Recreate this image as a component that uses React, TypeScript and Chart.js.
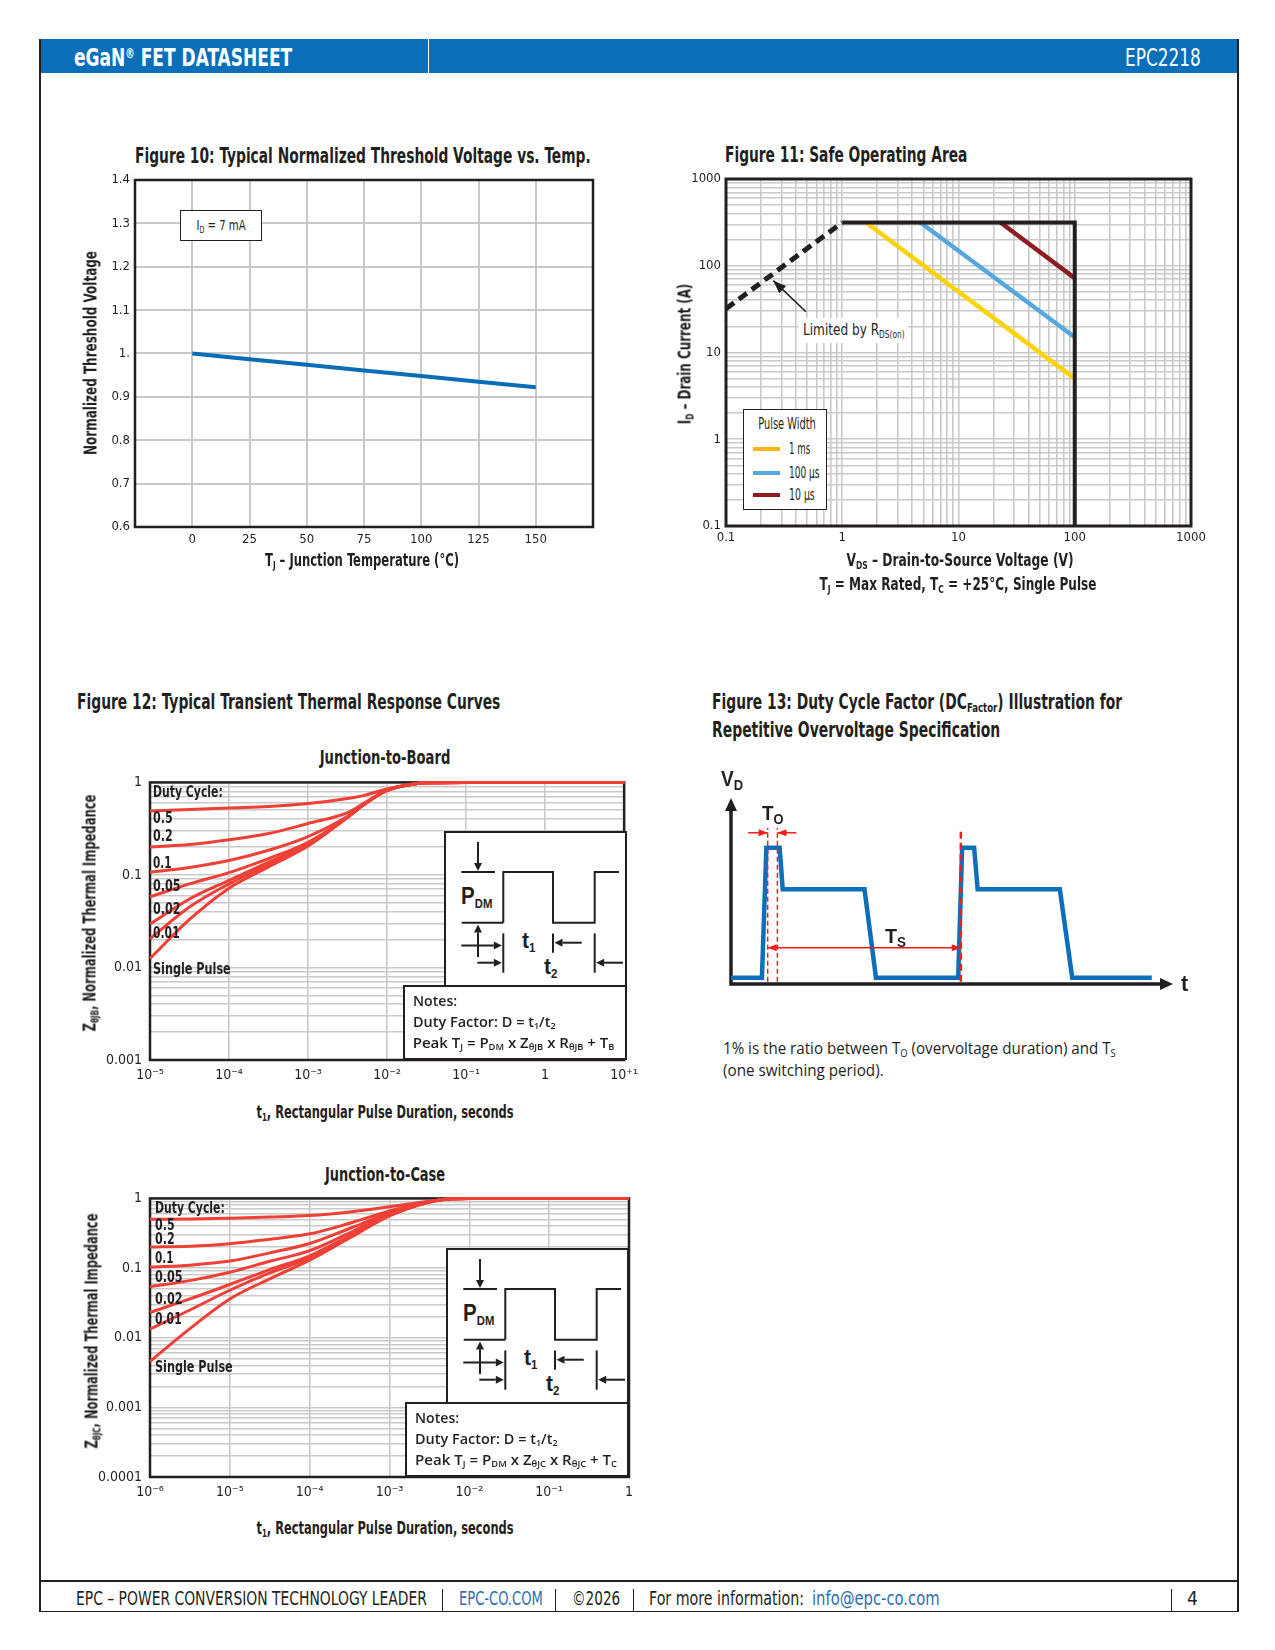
import React, { useEffect, useLayoutEffect, useRef } from 'react';
import { Chart, registerables } from 'chart.js';
Chart.register(...registerables);

const FONT_C = "'Liberation Sans Narrow','Arial Narrow','DejaVu Sans Condensed',sans-serif";
const FONT_S = "'Liberation Sans',Arial,'DejaVu Sans',sans-serif";
const FONT_H = "'Open Sans','Noto Sans','Liberation Sans',sans-serif";
const INK = '#231f20';
const BLUE = '#0a6fb8';
const LINK = '#2e6db4';
const GRID = '#c9c9c9';
const RED = '#ee4036';

// ---------- Figure 10 data ----------
const tempC = [0, 25, 50, 75, 100, 125, 150];
const vthNorm = [1.0, 0.987, 0.974, 0.961, 0.948, 0.935, 0.922];
const fig10XGrid = [-25, 0, 25, 50, 75, 100, 125, 150, 175];
const fig10XTicks = ['0', '25', '50', '75', '100', '125', '150'];
const fig10YGrid = [0.6, 0.7, 0.8, 0.9, 1.0, 1.1, 1.2, 1.3, 1.4];
const fig10YTicks = ['0.6', '0.7', '0.8', '0.9', '1.', '1.1', '1.2', '1.3', '1.4'];

// ---------- Figure 11 data ----------
const LOG_MULT = [1, 2, 3, 4, 5, 6, 7, 8, 9];
const soaDecades = [0.1, 1, 10, 100, 1000];
const soaDecadeLabels = ['0.1', '1', '10', '100', '1000'];
const rdsLimitV = [0.1, 1];
const rdsLimitI = [32, 315];
const boundaryV = [1, 100, 100];
const boundaryI = [315, 315, 0.1];
const pulse1msV = [1.6, 100];
const pulse1msI = [315, 5];
const pulse100usV = [4.7, 100];
const pulse100usI = [315, 15];
const pulse10usV = [23, 100];
const pulse10usI = [315, 72];
const rdsArrowV = [0.487, 0.255];
const rdsArrowI = [29.5, 67.3];
const pulseLegend = ['1 ms', '100 µs', '10 µs'];
const pulseColors = ['#fdd20a', '#55a7de', '#8c1d22'];
const pulseSwatch = ['#fbb817', '#55a7de', '#8c1d22'];

// ---------- Figure 12 data ----------
const dutyLabels = ['0.5', '0.2', '0.1', '0.05', '0.02', '0.01', 'Single Pulse'];
const jbTime = [1e-5, 3.16e-5, 1e-4, 3.16e-4, 1e-3, 3.16e-3, 5e-3, 1e-2, 2e-2, 3.16e-2, 0.1, 1, 10];
const jbD05 = [0.49, 0.51, 0.53, 0.55, 0.59, 0.67, 0.72, 0.85, 0.95, 0.99, 1, 1, 1];
const jbD02 = [0.2, 0.213, 0.24, 0.28, 0.36, 0.47, 0.59, 0.825, 0.95, 0.99, 1, 1, 1];
const jbD01 = [0.107, 0.12, 0.143, 0.185, 0.26, 0.43, 0.575, 0.82, 0.95, 0.99, 1, 1, 1];
const jbD005 = [0.058, 0.08, 0.106, 0.15, 0.225, 0.42, 0.57, 0.82, 0.95, 0.99, 1, 1, 1];
const jbD002 = [0.0295, 0.055, 0.0875, 0.138, 0.215, 0.42, 0.57, 0.82, 0.95, 0.99, 1, 1, 1];
const jbD001 = [0.0204, 0.045, 0.08, 0.13, 0.21, 0.42, 0.57, 0.82, 0.95, 0.99, 1, 1, 1];
const jbSingle = [0.0125, 0.033, 0.072, 0.122, 0.205, 0.42, 0.57, 0.82, 0.95, 0.99, 1, 1, 1];
const jbXDecades = [1e-5, 1e-4, 1e-3, 1e-2, 1e-1, 1, 10];
const jbXLabels = ['10⁻⁵', '10⁻⁴', '10⁻³', '10⁻²', '10⁻¹', '1', '10⁺¹'];
const jbYDecades = [0.001, 0.01, 0.1, 1];
const jbYLabels = ['0.001', '0.01', '0.1', '1'];

const jcTime = [1e-6, 3.16e-6, 1e-5, 3.16e-5, 1e-4, 3.16e-4, 1e-3, 3.16e-3, 6e-3, 1e-2, 0.1, 1];
const jcD05 = [0.5, 0.505, 0.52, 0.54, 0.567, 0.64, 0.76, 0.91, 0.985, 1, 1, 1];
const jcD02 = [0.2, 0.206, 0.224, 0.26, 0.31, 0.44, 0.66, 0.9, 0.985, 1, 1, 1];
const jcD01 = [0.103, 0.11, 0.126, 0.165, 0.225, 0.37, 0.62, 0.89, 0.985, 1, 1, 1];
const jcD005 = [0.054, 0.066, 0.087, 0.125, 0.178, 0.32, 0.6, 0.89, 0.985, 1, 1, 1];
const jcD002 = [0.023, 0.036, 0.058, 0.095, 0.15, 0.29, 0.58, 0.89, 0.985, 1, 1, 1];
const jcD001 = [0.0133, 0.025, 0.048, 0.085, 0.14, 0.28, 0.57, 0.89, 0.985, 1, 1, 1];
const jcSingle = [0.00455, 0.0135, 0.036, 0.07, 0.13, 0.27, 0.56, 0.89, 0.985, 1, 1, 1];
const jcXDecades = [1e-6, 1e-5, 1e-4, 1e-3, 1e-2, 1e-1, 1];
const jcXLabels = ['10⁻⁶', '10⁻⁵', '10⁻⁴', '10⁻³', '10⁻²', '10⁻¹', '1'];
const jcYDecades = [0.0001, 0.001, 0.01, 0.1, 1];
const jcYLabels = ['0.0001', '0.001', '0.01', '0.1', '1'];

// ---------- Figure 13 data ----------
const waveT = [0, 7, 8, 11, 11.7, 30.2, 32.8, 51.4, 52.3, 55, 55.8, 74.4, 77.2, 95.2];
const waveV = [0.34, 0.34, 7.33, 7.33, 5.09, 5.09, 0.34, 0.34, 7.33, 7.33, 5.09, 5.09, 0.34, 0.34];
const markerT = [8.3, 10.5, 52.0];
const markerV = [0.12, 8.39];
const toLeftArrowT = [3.9, 8.3];
const toRightArrowT = [14.8, 10.5];
const toArrowV = [8.13, 8.13];
const tsArrowT = [8.3, 52.0];
const tsArrowV = [1.95, 1.95];

// ---------- layout helpers (positions only) ----------
const LABEL_W = [20, 20, 19, 28, 28, 27, 78];
const JB_LABEL_Y = [817.7, 835.7, 863.3, 886, 909.3, 933.3, 969.3];
const JC_LABEL_Y = [1225, 1239, 1257.7, 1276.7, 1299, 1319, 1366.7];
const LEGEND_Y = [449.3, 472.7, 495];
const LEGEND_W = [21.3, 30.7, 25.7];

function minorTicks(decades: number[]) {
  const out: number[] = [];
  decades.forEach((d, i) => {
    if (i === decades.length - 1) { out.push(d); return; }
    LOG_MULT.forEach((m) => out.push(d * m));
  });
  return out;
}
function decadeLabel(v: number, decs: number[], labels: string[]) {
  const i = decs.findIndex((d) => Math.abs(Math.log10(v / d)) < 1e-6);
  return i >= 0 ? labels[i] : '';
}
function pts(xs: number[], ys: number[]) {
  return xs.map((x, i) => ({ x, y: ys[i] }));
}

function head(ctx: any, fx: number, fy: number, tx: number, ty: number, len: number, hw: number, color: string) {
  const a = Math.atan2(ty - fy, tx - fx);
  ctx.save();
  ctx.fillStyle = color;
  ctx.beginPath();
  ctx.moveTo(tx, ty);
  ctx.lineTo(tx - len * Math.cos(a) + hw * Math.sin(a), ty - len * Math.sin(a) - hw * Math.cos(a));
  ctx.lineTo(tx - len * Math.cos(a) - hw * Math.sin(a), ty - len * Math.sin(a) + hw * Math.cos(a));
  ctx.closePath();
  ctx.fill();
  ctx.restore();
}

const framePlugin = {
  id: 'frame',
  beforeDatasetsDraw(chart: any, _a: any, opts: any) {
    if (!opts || !opts.width) return;
    const { left, top, width, height } = chart.chartArea;
    const ctx = chart.ctx;
    ctx.save();
    ctx.strokeStyle = opts.color || INK;
    ctx.lineWidth = opts.width;
    ctx.strokeRect(left, top, width, height);
    ctx.restore();
  },
};

const arrowPlugin = {
  id: 'arrowHeads',
  afterDatasetsDraw(chart: any) {
    const ctx = chart.ctx;
    chart.data.datasets.forEach((ds: any, i: number) => {
      if (!ds.arrowEnd && !ds.arrowStart) return;
      const p = chart.getDatasetMeta(i).data;
      if (p.length < 2) return;
      const len = ds.arrowLen || 9;
      const hw = ds.arrowHalf || 4;
      if (ds.arrowEnd) head(ctx, p[p.length - 2].x, p[p.length - 2].y, p[p.length - 1].x, p[p.length - 1].y, len, hw, ds.borderColor);
      if (ds.arrowStart) head(ctx, p[1].x, p[1].y, p[0].x, p[0].y, len, hw, ds.borderColor);
    });
  },
};

const axesArrowPlugin = {
  id: 'axesArrows',
  beforeDatasetsDraw(chart: any) {
    const { left, right, top, bottom } = chart.chartArea;
    const ctx = chart.ctx;
    ctx.save();
    ctx.strokeStyle = INK;
    ctx.lineWidth = 3.5;
    ctx.beginPath();
    ctx.moveTo(left, bottom + 1.75);
    ctx.lineTo(left, top + 10);
    ctx.moveTo(left - 1.75, bottom);
    ctx.lineTo(right - 10, bottom);
    ctx.stroke();
    ctx.restore();
    head(ctx, left, bottom, left, top, 13, 6, INK);
    head(ctx, left, bottom, right, bottom, 13, 6, INK);
  },
};

const baseOpts = {
  animation: false,
  responsive: false,
  maintainAspectRatio: false,
  devicePixelRatio: 1,
  events: [],
};

function tickFont(size: number) {
  return { family: FONT_C, size };
}

function fig10Config(): any {
  return {
    type: 'line',
    data: {
      datasets: [{ data: pts(tempC, vthNorm), borderColor: '#0a6db6', borderWidth: 4, pointRadius: 0, tension: 0, fill: false }],
    },
    options: {
      ...baseOpts,
      layout: { padding: { top: 15, right: 17, left: 0, bottom: 0 } },
      plugins: { legend: { display: false }, tooltip: { enabled: false }, frame: { color: INK, width: 2.5 } },
      scales: {
        x: {
          type: 'linear', min: -25, max: 175,
          afterBuildTicks: (s: any) => { s.ticks = fig10XGrid.map((v) => ({ value: v })); },
          ticks: { callback: (v: any) => (fig10XTicks.includes(String(v)) ? String(v) : ''), autoSkip: false, maxRotation: 0, padding: 5, color: INK, font: tickFont(13) },
          grid: { color: GRID, lineWidth: 2, drawTicks: false },
          border: { display: false },
          afterFit: (s: any) => { s.height = 28; },
        },
        y: {
          type: 'linear', min: 0.6, max: 1.4,
          afterBuildTicks: (s: any) => { s.ticks = fig10YGrid.map((v) => ({ value: v })); },
          ticks: { callback: (_v: any, i: number) => fig10YTicks[i], autoSkip: false, padding: 5, color: INK, font: tickFont(13) },
          grid: { color: GRID, lineWidth: 2, drawTicks: false },
          border: { display: false },
          afterFit: (s: any) => { s.width = 35; },
        },
      },
    },
    plugins: [framePlugin],
  };
}

function fig11Config(): any {
  const grid = minorTicks(soaDecades);
  const line = (xs: number[], ys: number[], color: string, width: number, extra: any = {}) => ({
    data: pts(xs, ys), borderColor: color, borderWidth: width, pointRadius: 0, tension: 0, fill: false, borderCapStyle: 'butt', ...extra,
  });
  return {
    type: 'line',
    data: {
      datasets: [
        line(boundaryV, boundaryI, INK, 4, { borderJoinStyle: 'miter', order: 0 }),
        line(rdsLimitV, rdsLimitI, INK, 5, { borderDash: [10, 6], order: 1 }),
        line(rdsArrowV, rdsArrowI, INK, 1.6, { arrowEnd: true, arrowLen: 13, arrowHalf: 5, order: 1 }),
        line(pulse1msV, pulse1msI, pulseColors[0], 4.5, { order: 2 }),
        line(pulse100usV, pulse100usI, pulseColors[1], 4.5, { order: 2 }),
        line(pulse10usV, pulse10usI, pulseColors[2], 4.5, { order: 2 }),
      ],
    },
    options: {
      ...baseOpts,
      layout: { padding: { top: 15, right: 24, left: 0, bottom: 0 } },
      plugins: { legend: { display: false }, tooltip: { enabled: false }, frame: { color: INK, width: 3 } },
      scales: {
        x: {
          type: 'logarithmic', min: 0.1, max: 1000,
          afterBuildTicks: (s: any) => { s.ticks = grid.map((v) => ({ value: v })); },
          ticks: { callback: (v: any) => decadeLabel(v, soaDecades, soaDecadeLabels), autoSkip: false, maxRotation: 0, padding: 4, color: INK, font: tickFont(13) },
          grid: { color: GRID, lineWidth: 1.6, drawTicks: false },
          border: { display: false },
          afterFit: (s: any) => { s.height = 24; },
        },
        y: {
          type: 'logarithmic', min: 0.1, max: 1000,
          afterBuildTicks: (s: any) => { s.ticks = grid.map((v) => ({ value: v })); },
          ticks: { callback: (v: any) => decadeLabel(v, soaDecades, soaDecadeLabels), autoSkip: false, padding: 5, color: INK, font: tickFont(13) },
          grid: { color: GRID, lineWidth: 1.6, drawTicks: false },
          border: { display: false },
          afterFit: (s: any) => { s.width = 36; },
        },
      },
    },
    plugins: [framePlugin, arrowPlugin],
  };
}

function thermalConfig(p: any): any {
  const yGrid = minorTicks(p.yDecades);
  return {
    type: 'line',
    data: {
      datasets: p.series.map((vals: number[]) => ({
        data: pts(p.time, vals), borderColor: RED, borderWidth: 3, pointRadius: 0, fill: false,
        cubicInterpolationMode: 'monotone', clip: false,
      })),
    },
    options: {
      ...baseOpts,
      layout: { padding: { top: 15, right: p.padRight, left: 0, bottom: 0 } },
      plugins: { legend: { display: false }, tooltip: { enabled: false }, frame: { color: INK, width: 2.5 } },
      scales: {
        x: {
          type: 'logarithmic', min: p.xDecades[0], max: p.xDecades[p.xDecades.length - 1],
          afterBuildTicks: (s: any) => { s.ticks = p.xDecades.map((v: number) => ({ value: v })); },
          ticks: { callback: (v: any) => decadeLabel(v, p.xDecades, p.xLabels), autoSkip: false, maxRotation: 0, padding: 7, color: INK, font: tickFont(14) },
          grid: { color: GRID, lineWidth: 1.6, drawTicks: false },
          border: { display: false },
          afterFit: (s: any) => { s.height = p.xHeight; },
        },
        y: {
          type: 'logarithmic', min: p.yDecades[0], max: p.yDecades[p.yDecades.length - 1],
          afterBuildTicks: (s: any) => { s.ticks = yGrid.map((v) => ({ value: v })); },
          ticks: { callback: (v: any) => decadeLabel(v, p.yDecades, p.yLabels), autoSkip: false, padding: 8, color: INK, font: tickFont(14) },
          grid: { color: GRID, lineWidth: 1.6, drawTicks: false },
          border: { display: false },
          afterFit: (s: any) => { s.width = p.yWidth; },
        },
      },
    },
    plugins: [framePlugin],
  };
}

function fig13Config(): any {
  const red = (xs: number[], ys: number[], extra: any = {}) => ({
    data: pts(xs, ys), borderColor: '#ff1a1a', borderWidth: 1.5, pointRadius: 0, tension: 0, fill: false, ...extra,
  });
  return {
    type: 'line',
    data: {
      datasets: [
        { data: pts(waveT, waveV), borderColor: '#0d6fba', borderWidth: 4.5, pointRadius: 0, tension: 0, fill: false, borderJoinStyle: 'miter', order: 3 },
        red([markerT[0], markerT[0]], markerV, { borderDash: [5, 3], order: 1 }),
        red([markerT[1], markerT[1]], markerV, { borderDash: [5, 3], order: 1 }),
        red([markerT[2], markerT[2]], markerV, { borderDash: [7, 4], borderWidth: 2.5, order: 1 }),
        red(toLeftArrowT, toArrowV, { arrowEnd: true, arrowLen: 9, arrowHalf: 3.5, order: 0 }),
        red(toRightArrowT, toArrowV, { arrowEnd: true, arrowLen: 9, arrowHalf: 3.5, order: 0 }),
        red(tsArrowT, tsArrowV, { arrowEnd: true, arrowStart: true, arrowLen: 9, arrowHalf: 3.5, order: 0 }),
      ],
    },
    options: {
      ...baseOpts,
      layout: { padding: { top: 10, right: 15, left: 15, bottom: 10 } },
      plugins: { legend: { display: false }, tooltip: { enabled: false } },
      scales: {
        x: { type: 'linear', min: 0, max: 100, display: false },
        y: { type: 'linear', min: 0, max: 10, display: false },
      },
    },
    plugins: [axesArrowPlugin, arrowPlugin],
  };
}

// ---------- components ----------
function ChartCanvas({ x, y, w, h, make }: any) {
  const ref = useRef<HTMLCanvasElement>(null);
  useEffect(() => {
    const chart = new Chart(ref.current as HTMLCanvasElement, make());
    return () => chart.destroy();
  }, []);
  return <canvas ref={ref} width={w} height={h} style={{ position: 'absolute', left: x, top: y, width: w, height: h }} />;
}

function Fit({ x, y, w, size, bold, weight, font = FONT_C, color = INK, align = 'l', rot = false, children }: any) {
  const ref = useRef<HTMLSpanElement>(null);
  useLayoutEffect(() => {
    const el = ref.current;
    if (!el) return;
    const apply = () => {
      const nat = el.offsetWidth;
      const k = nat > 0 ? w / nat : 1;
      if (rot) el.style.transform = `translate(-50%,-50%) rotate(-90deg) scaleX(${k})`;
      else if (align === 'c') el.style.transform = `translate(-50%,-50%) scaleX(${k})`;
      else el.style.transform = `translateY(-50%) scaleX(${k})`;
    };
    apply();
    const f = (document as any).fonts;
    if (f && f.ready) f.ready.then(apply);
  }, [w, rot, align]);
  return (
    <span
      ref={ref}
      style={{
        position: 'absolute', left: x, top: y, fontSize: size, fontFamily: font,
        fontWeight: weight || (bold ? 700 : 400), color, whiteSpace: 'nowrap', lineHeight: 1,
        transformOrigin: align === 'l' && !rot ? '0 50%' : '50% 50%',
      }}
    >
      {children}
    </span>
  );
}

const Sub = ({ children, s = 0.62 }: any) => (
  <span style={{ fontSize: `${s}em`, verticalAlign: '-0.3em', lineHeight: 0 }}>{children}</span>
);

function Box({ x, y, w, h, b = 2.5, bg = '#fff' }: any) {
  return <div style={{ position: 'absolute', left: x, top: y, width: w, height: h, border: `${b}px solid ${INK}`, boxSizing: 'border-box', background: bg }} />;
}
function Rule({ x, y, w, h, c = INK }: any) {
  return <div style={{ position: 'absolute', left: x, top: y, width: w, height: h, background: c }} />;
}

function SvgArrow({ x1, y1, x2, y2 }: any) {
  const a = Math.atan2(y2 - y1, x2 - x1);
  const L = 8, H = 4;
  const bx = x2 - L * Math.cos(a), by = y2 - L * Math.sin(a);
  const p = `${x2},${y2} ${bx + H * Math.sin(a)},${by - H * Math.cos(a)} ${bx - H * Math.sin(a)},${by + H * Math.cos(a)}`;
  return (
    <g>
      <line x1={x1} y1={y1} x2={bx} y2={by} stroke={INK} strokeWidth={2} />
      <polygon points={p} fill={INK} />
    </g>
  );
}

function Inset({ right, bottom, sub, base }: any) {
  const bw = 183, bh = 154, nw = 224, nh = 75;
  const bx = right - bw, by = bottom - nh - bh;
  const nx = right - nw, ny = bottom - nh;
  return (
    <>
      <Box x={bx} y={by} w={bw} h={bh + 2} />
      <svg style={{ position: 'absolute', left: bx, top: by }} width={bw} height={bh}>
        <line x1={17.3} y1={41} x2={51} y2={41} stroke={INK} strokeWidth={2} />
        <SvgArrow x1={34} y1={11} x2={34} y2={40} />
        <line x1={17.7} y1={91.7} x2={59.3} y2={91.7} stroke={INK} strokeWidth={2} />
        <polyline points="59.3,91.7 59.3,41 109,41 109,91.7 150.7,91.7 150.7,41 175,41" fill="none" stroke={INK} strokeWidth={2} />
        <SvgArrow x1={34} y1={126} x2={34} y2={93.4} />
        <SvgArrow x1={17.3} y1={114.4} x2={57.8} y2={114.4} />
        <line x1={59.3} y1={102.4} x2={59.3} y2={141.7} stroke={INK} strokeWidth={2} />
        <line x1={109} y1={102.4} x2={109} y2={121.7} stroke={INK} strokeWidth={2} />
        <line x1={150.7} y1={102.4} x2={150.7} y2={141.7} stroke={INK} strokeWidth={2} />
        <SvgArrow x1={137.7} y1={111.7} x2={110.5} y2={111.7} />
        <SvgArrow x1={33.3} y1={131.7} x2={57.8} y2={131.7} />
        <SvgArrow x1={179} y1={131.7} x2={152.2} y2={131.7} />
      </svg>
      <Fit x={bx + 17.3} y={by + 65} w={31.7} size={24} bold font={FONT_S}>P<Sub s={0.55}>DM</Sub></Fit>
      <Fit x={bx + 78.3} y={by + 110} w={13.3} size={22} bold font={FONT_S}>t<Sub s={0.55}>1</Sub></Fit>
      <Fit x={bx + 100} y={by + 135.7} w={13.3} size={22} bold font={FONT_S}>t<Sub s={0.55}>2</Sub></Fit>
      <Box x={nx} y={ny} w={nw} h={nh} />
      <Fit x={nx + 9.7} y={ny + 14.6} w={44.3} size={15} weight={600} font={FONT_H}>Notes:</Fit>
      <Fit x={nx + 9.7} y={ny + 35.6} w={142.7} size={15} weight={600} font={FONT_H}>Duty Factor: D = t<Sub>1</Sub>/t<Sub>2</Sub></Fit>
      <Fit x={nx + 9.7} y={ny + 57.3} w={202} size={15} weight={600} font={FONT_H}>
        Peak T<Sub>J</Sub> = P<Sub>DM</Sub> x Z<Sub>{'θ' + sub}</Sub> x R<Sub>{'θ' + sub}</Sub> + T<Sub>{base}</Sub>
      </Fit>
    </>
  );
}

function DutyLabels({ x, ys, topY }: any) {
  return (
    <>
      <Fit x={x} y={topY} w={69.5} size={16} bold>Duty Cycle:</Fit>
      {dutyLabels.map((t, i) => (
        <Fit key={t} x={x} y={ys[i]} w={LABEL_W[i]} size={16} bold>{t}</Fit>
      ))}
    </>
  );
}

export default function App() {
  return (
    <div style={{ position: 'absolute', left: 0, top: 0, width: 1275, height: 1650, background: '#fff', overflow: 'hidden', fontFamily: FONT_C }}>
      {/* header */}
      <Rule x={40} y={39} w={1198} h={34} c={BLUE} />
      <Rule x={428} y={39} w={1.2} h={34} c="#ffffff" />
      <Fit x={74.3} y={57.4} w={218.3} size={25} bold color="#fff">
        eGaN<span style={{ fontSize: '0.55em', verticalAlign: '0.55em', lineHeight: 0 }}>®</span> FET DATASHEET
      </Fit>
      <Fit x={1124.6} y={57.8} w={76} size={24} color="#fff">EPC2218</Fit>

      {/* page frame */}
      <Rule x={39.3} y={39} w={1.5} h={1573} />
      <Rule x={1237.3} y={39} w={1.5} h={1573} />
      <Rule x={40} y={1580} w={1198} h={1.5} />
      <Rule x={40} y={1610.8} w={1198} h={1.5} />

      {/* Figure 10 */}
      <Fit x={134.7} y={156.3} w={456} size={21} bold>Figure 10: Typical Normalized Threshold Voltage vs. Temp.</Fit>
      <ChartCanvas x={100} y={165} w={510} h={390} make={fig10Config} />
      <Box x={180.4} y={209.6} w={81.6} h={31} b={1.5} />
      <Fit x={221.2} y={224.7} w={49} size={14} align="c">I<Sub>D</Sub> = 7 mA</Fit>
      <Fit x={90.6} y={352.8} w={204} size={17} bold rot>Normalized Threshold Voltage</Fit>
      <Fit x={362.4} y={559.8} w={194} size={17} bold align="c">T<Sub>J</Sub> – Junction Temperature (°C)</Fit>

      {/* Figure 11 */}
      <Fit x={725} y={155.2} w={242} size={21} bold>Figure 11: Safe Operating Area</Fit>
      <ChartCanvas x={690} y={164} w={525} h={386} make={fig11Config} />
      <Rule x={798} y={318} w={110} h={25} c="#ffffff" />
      <Fit x={803.3} y={330} w={101.7} size={16}>Limited by R<Sub>DS(on)</Sub></Fit>
      <Box x={742.7} y={409.3} w={84} h={100.7} b={1.5} />
      <Fit x={786.7} y={424} w={57.7} size={15} align="c">Pulse Width</Fit>
      {pulseLegend.map((t, i) => (
        <React.Fragment key={t}>
          <Rule x={752.7} y={LEGEND_Y[i] - 2} w={27} h={4} c={pulseSwatch[i]} />
          <Fit x={789.3} y={LEGEND_Y[i]} w={LEGEND_W[i]} size={15}>{t}</Fit>
        </React.Fragment>
      ))}
      <Fit x={685} y={354} w={140.7} size={17} bold rot>I<Sub>D</Sub> – Drain Current (A)</Fit>
      <Fit x={959.5} y={559.6} w={227.5} size={17} bold align="c">V<Sub>DS</Sub> – Drain-to-Source Voltage (V)</Fit>
      <Fit x={957.9} y={583.7} w={277} size={17} bold align="c">T<Sub>J</Sub> = Max Rated, T<Sub>C</Sub> = +25°C, Single Pulse</Fit>

      {/* Figure 12 */}
      <Fit x={76.7} y={701.7} w={423.3} size={21} bold>Figure 12:  Typical Transient Thermal Response Curves</Fit>
      <Fit x={384.7} y={756.7} w={130.7} size={19} bold align="c">Junction-to-Board</Fit>
      <ChartCanvas
        x={100} y={766} w={545} h={324}
        make={() => thermalConfig({ time: jbTime, series: [jbD05, jbD02, jbD01, jbD005, jbD002, jbD001, jbSingle], xDecades: jbXDecades, xLabels: jbXLabels, yDecades: jbYDecades, yLabels: jbYLabels, padRight: 18, xHeight: 30, yWidth: 50 })}
      />
      <DutyLabels x={152.7} ys={JB_LABEL_Y} topY={791.7} />
      <Inset right={627} bottom={1060} sub="JB" base="B" />
      <Fit x={89.6} y={913.3} w={236.7} size={17} bold rot>Z<Sub>θJB</Sub>, Normalized Thermal Impedance</Fit>
      <Fit x={385} y={1111.7} w={257.4} size={17} bold align="c">t<Sub>1</Sub>, Rectangular Pulse Duration, seconds</Fit>

      <Fit x={385} y={1174} w={120.4} size={19} bold align="c">Junction-to-Case</Fit>
      <ChartCanvas
        x={95} y={1182} w={553} h={323}
        make={() => thermalConfig({ time: jcTime, series: [jcD05, jcD02, jcD01, jcD005, jcD002, jcD001, jcSingle], xDecades: jcXDecades, xLabels: jcXLabels, yDecades: jcYDecades, yLabels: jcYLabels, padRight: 19, xHeight: 28, yWidth: 55 })}
      />
      <DutyLabels x={155} ys={JC_LABEL_Y} topY={1208.3} />
      <Inset right={629} bottom={1477} sub="JC" base="C" />
      <Fit x={91.5} y={1330.8} w={235} size={17} bold rot>Z<Sub>θJC</Sub>, Normalized Thermal Impedance</Fit>
      <Fit x={385} y={1528.3} w={257.4} size={17} bold align="c">t<Sub>1</Sub>, Rectangular Pulse Duration, seconds</Fit>

      {/* Figure 13 */}
      <Fit x={711.7} y={701.7} w={410} size={21} bold>Figure 13:  Duty Cycle Factor (DC<Sub>Factor</Sub>) Illustration for</Fit>
      <Fit x={711.7} y={730} w={288.3} size={21} bold>Repetitive Overvoltage Specification</Fit>
      <ChartCanvas x={716} y={788} w={472} h={206} make={fig13Config} />
      <Fit x={720.7} y={779.3} w={22.6} size={22} bold font={FONT_S}>V<Sub s={0.68}>D</Sub></Fit>
      <Fit x={761.7} y={811.7} w={21.6} size={21} bold font={FONT_S}>T<Sub s={0.68}>O</Sub></Fit>
      <Fit x={885} y={935} w={20.7} size={21} bold font={FONT_S}>T<Sub s={0.68}>S</Sub></Fit>
      <Fit x={1181} y={984} w={6.8} size={22} bold font={FONT_S}>t</Fit>
      <Fit x={722.7} y={1048.3} w={392.3} size={16} font={FONT_H}>1% is the ratio between T<Sub>O</Sub> (overvoltage duration) and T<Sub>S</Sub></Fit>
      <Fit x={722.7} y={1070} w={160.7} size={16} font={FONT_H}>(one switching period).</Fit>

      {/* footer */}
      <Fit x={76} y={1598.3} w={351} size={19}>EPC – POWER CONVERSION TECHNOLOGY LEADER</Fit>
      <Rule x={441.5} y={1589} w={1.2} h={22} />
      <Fit x={458.6} y={1598.3} w={83.4} size={19} color={LINK}>EPC-CO.COM</Fit>
      <Rule x={555} y={1589} w={1.2} h={22} />
      <Fit x={572} y={1598.3} w={48.5} size={19}>©2026</Fit>
      <Rule x={632.5} y={1589} w={1.2} h={22} />
      <Fit x={649} y={1598.3} w={155} size={19}>For more information:</Fit>
      <Fit x={812} y={1598.3} w={128} size={19} color={LINK}>info@epc-co.com</Fit>
      <Rule x={1170.5} y={1589} w={1.2} h={22} />
      <Fit x={1187} y={1598.3} w={11} size={19}>4</Fit>
    </div>
  );
}
